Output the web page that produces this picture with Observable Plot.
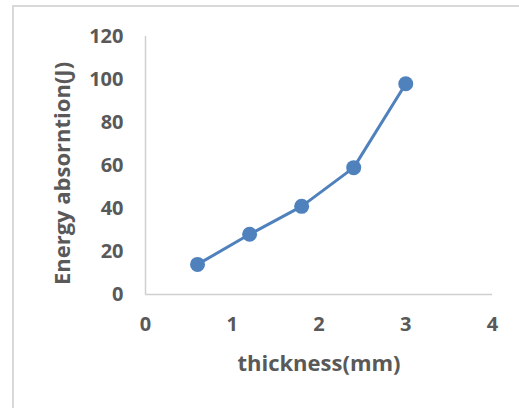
<!DOCTYPE html>
<html>
<head>
<meta charset="utf-8">
<script src="https://cdn.jsdelivr.net/npm/d3@7"></script>
<script src="https://cdn.jsdelivr.net/npm/@observablehq/plot@0.6"></script>
<style>
  html, body { margin: 0; padding: 0; background: #fff; }
  #wrap { position: relative; width: 519px; height: 408px; overflow: hidden; }
  #frame { position: absolute; left: 12px; top: 5px; width: 600px; height: 500px;
           border: 2px solid #d9d9d9; box-sizing: border-box; }
  #chart { position: absolute; left: 0; top: 0; }
  /* axis titles are set a little larger than the tick labels */
  #chart g[aria-label="x-axis label"] text,
  #chart g[aria-label="y-axis label"] text { font-size: 22px; }
  /* the vertical title sits slightly below the plot's centre */
  #chart g[aria-label="y-axis label"] { translate: 1px 8px; }
</style>
</head>
<body>
<div id="wrap">
  <div id="frame"></div>
  <div id="chart"></div>
</div>
<script>
// Energy absorption vs. plate thickness
const thickness = [0.6, 1.2, 1.8, 2.4, 3.0];
const energy = [14, 28, 41, 59, 98];
const xTicks = [0, 1, 2, 3, 4];
const yTicks = [0, 20, 40, 60, 80, 100, 120];

const rows = thickness.map((t, i) => ({thickness: t, energy: energy[i]}));
const blue = "#4f81bd";
const grey = "#d0d0d0";
const textColor = "#595959";

const chart = Plot.plot({
  width: 519,
  height: 408,
  marginLeft: 145,
  marginRight: 27,
  marginTop: 36,
  marginBottom: 114,
  style: {
    fontFamily: "'Open Sans', sans-serif",
    fontSize: "20px",
    fontWeight: "bold",
    color: textColor,
    background: "transparent"
  },
  x: {domain: [0, 4]},
  y: {domain: [0, 120]},
  marks: [
    Plot.ruleX([0], {stroke: grey, strokeWidth: 1.5}),
    Plot.ruleY([0], {stroke: grey, strokeWidth: 1.5}),
    Plot.axisX({ticks: xTicks, tickSize: 0, tickPadding: 22, tickFormat: d => d,
      label: "thickness(mm)", labelAnchor: "center", labelArrow: "none", labelOffset: 76}),
    Plot.axisY({ticks: yTicks, tickSize: 0, tickPadding: 22, tickFormat: d => d,
      label: "Energy absorntion(J)", labelAnchor: "center", labelArrow: "none", labelOffset: 92}),
    Plot.line(rows, {x: "thickness", y: "energy", stroke: blue, strokeWidth: 3}),
    Plot.dot(rows, {x: "thickness", y: "energy", fill: blue, r: 7.5})
  ]
});
document.getElementById("chart").appendChild(chart);
</script>
</body>
</html>
